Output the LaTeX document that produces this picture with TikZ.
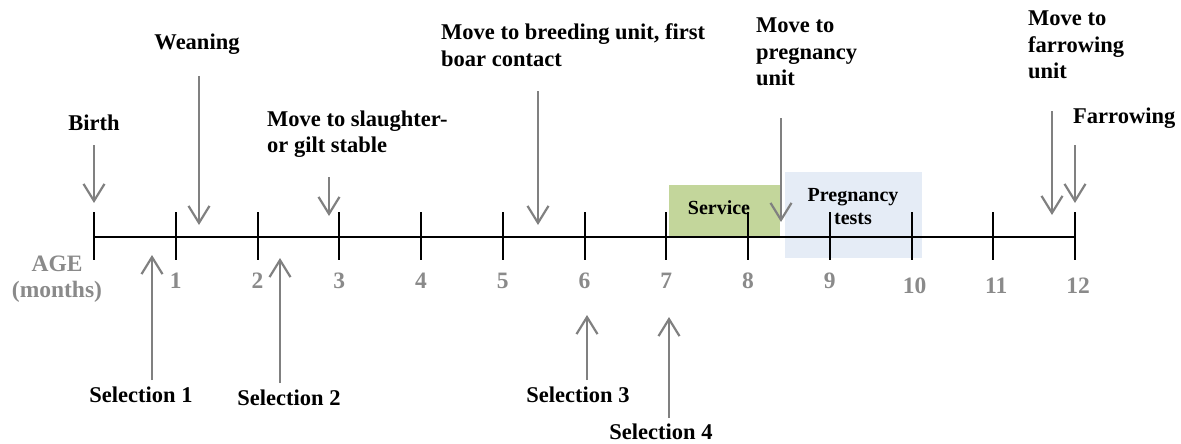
\documentclass[tikz,border=0pt]{standalone}
\usepackage{fontspec}
\setmainfont{Liberation Serif}
\usetikzlibrary{arrows.meta}
\definecolor{arrgray}{RGB}{128,128,128}
\definecolor{numgray}{RGB}{138,138,138}
\definecolor{servgreen}{RGB}{195,214,155}
\definecolor{pregblue}{RGB}{229,236,246}
\newcommand\mystackl[1]{\begin{tabular}[t]{@{}l@{}}#1\end{tabular}}
\newcommand\mystackc[1]{\begin{tabular}[t]{@{}c@{}}#1\end{tabular}}
\begin{document}
\begin{tikzpicture}[x=1pt,y=-1pt,
  lbl/.style={font=\fontsize{22.5}{26.5}\selectfont\bfseries, inner sep=0pt, anchor=base west},
  lblc/.style={lbl, anchor=base},
  boxlbl/.style={font=\fontsize{20}{22}\selectfont\bfseries, inner sep=0pt, anchor=base},
  num/.style={font=\fontsize{23.5}{26}\selectfont\bfseries, text=numgray, inner sep=0pt, anchor=base},
  evt/.style={draw=arrgray, line width=2.2pt, -{Straight Barb[length=17pt,width=21pt]}},
  axisline/.style={draw=black, line width=2.6pt},
  tickmark/.style={draw=black, line width=2pt},
  periodbox/.style={inner sep=0pt, outer sep=0pt, anchor=north west, draw=none}
]
\useasboundingbox (0,0) rectangle (1181,444);

% period boxes
\node[periodbox, fill=servgreen, minimum width=111pt, minimum height=52pt] (servbox) at (669,185) {};
\node[periodbox, fill=pregblue, minimum width=137pt, minimum height=86pt] (pregbox) at (785,172) {};

% axis and ticks
\foreach \i in {0,...,12} \coordinate (t\i) at ({94+81.75*\i},237);
\draw[axisline] (t0) -- (t12);
\foreach \i in {0,...,12} \draw[tickmark] (t\i) ++(0,-25) -- ++(0,48);

% box texts
\node[boxlbl] (servtxt) at (719,214) {Service};
\node[boxlbl] (pregtxt) at (853,201) {\fontsize{20}{23}\selectfont\mystackc{Pregnancy\\tests}};

% numbers
\foreach \i in {1,...,9} \node[num] (n\i) at ({94+81.75*\i},288.5) {\i};
\foreach \i in {10,11,12} \node[num] (n\i) at ({97+81.75*\i},293) {\i};
\node[num] (age) at (57,271) {\fontsize{23.5}{26}\selectfont\mystackc{AGE\\(months)}};

% top events
\node[lblc] (birth) at (94,130) {Birth};
\node[lblc] (weaning) at (197,50) {Weaning};
\node[lbl] (slaughter) at (267,126) {\mystackl{Move to slaughter-\\or gilt stable}};
\node[lbl] (breeding) at (441,40) {\mystackl{Move to breeding unit, first\\boar contact}};
\node[lbl] (pregunit) at (756,33) {\mystackl{Move to\\pregnancy\\unit}};
\node[lbl] (farrunit) at (1028,26) {\mystackl{Move to\\farrowing\\unit}};
\node[lbl] (farrowing) at (1073,123) {Farrowing};

\coordinate (birthA) at (94,145);     \coordinate (birthB) at (94,203);
\coordinate (weanA) at (199,76);      \coordinate (weanB) at (199,225);
\coordinate (slaughA) at (329,177);   \coordinate (slaughB) at (329,216);
\coordinate (breedA) at (538,91);     \coordinate (breedB) at (538,225);
\coordinate (pregA) at (781,118);     \coordinate (pregB) at (781,222);
\coordinate (farrUA) at (1052,111);   \coordinate (farrUB) at (1052,215);
\coordinate (farrA) at (1075,145);    \coordinate (farrB) at (1075,203);

\draw[evt] (birthA) -- (birthB);
\draw[evt] (weanA) -- (weanB);
\draw[evt] (slaughA) -- (slaughB);
\draw[evt] (breedA) -- (breedB);
\draw[evt] (pregA) -- (pregB);
\draw[evt] (farrUA) -- (farrUB);
\draw[evt] (farrA) -- (farrB);

% selections
\node[lblc] (sel1) at (141,402) {Selection 1};
\node[lblc] (sel2) at (289,405) {Selection 2};
\node[lblc] (sel3) at (578,402) {Selection 3};
\node[lblc] (sel4) at (661,439.5) {Selection 4};

\coordinate (s1A) at (152,380);  \coordinate (s1B) at (152,255);
\coordinate (s2A) at (280,383);  \coordinate (s2B) at (280,258);
\coordinate (s3A) at (587,380);  \coordinate (s3B) at (587,315);
\coordinate (s4A) at (669,418);  \coordinate (s4B) at (669,317);

\draw[evt] (s1A) -- (s1B);
\draw[evt] (s2A) -- (s2B);
\draw[evt] (s3A) -- (s3B);
\draw[evt] (s4A) -- (s4B);
\end{tikzpicture}
\end{document}
